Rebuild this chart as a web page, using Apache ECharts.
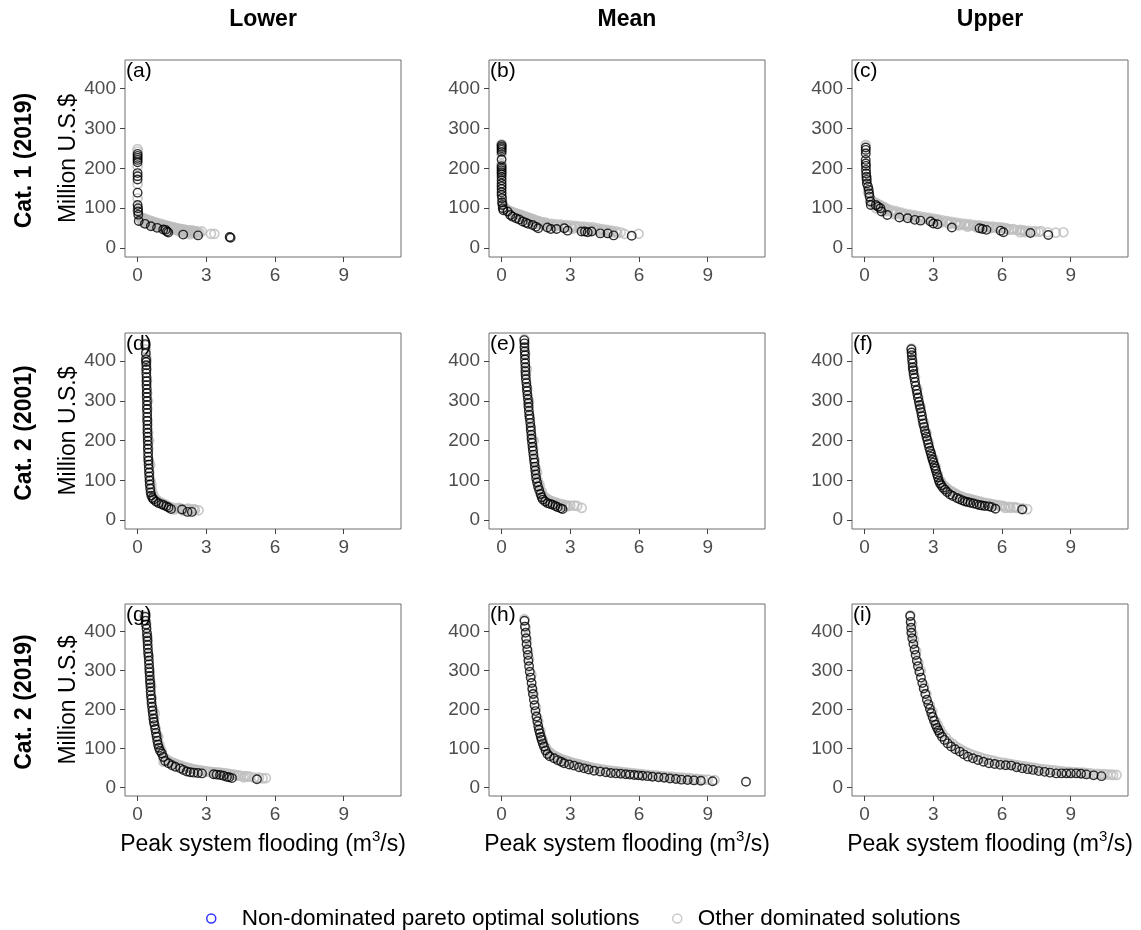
<!DOCTYPE html>
<html>
<head>
<meta charset="utf-8">
<script src="https://cdn.jsdelivr.net/npm/echarts@6/dist/echarts.min.js"></script>
<style>
html,body{margin:0;padding:0;background:#fff;}
#c{width:1141px;height:930px;}
</style>
</head>
<body>
<div id="c"></div>
<script>
// ---------- labels ----------
const columnTitles = ['Lower', 'Mean', 'Upper'];
const rowTitles = ['Cat. 1 (2019)', 'Cat. 2 (2001)', 'Cat. 2 (2019)'];
const panelTags = ['(a)', '(b)', '(c)', '(d)', '(e)', '(f)', '(g)', '(h)', '(i)'];
const xTicks = [0, 3, 6, 9];
const yTicks = [0, 100, 200, 300, 400];
const yTitle = 'Million U.S.$';
const seriesNames = ['Non-dominated pareto optimal solutions', 'Other dominated solutions'];

// ---------- data: [peak flooding m3/s, million US$] ----------
// (a) Cat.1 2019 Lower
const ndA = [[0.0,236],[0.0,231],[0.0,226],[0.0,221],[0.0,215],[0.0,188],[0.0,180],[0.0,172],[0.0,139],[0.0,108],[0.02,100],[0.02,92],[0.03,84],[0.05,68],[0.32,61],[0.58,55],[0.85,51],[1.12,47],[1.22,46],[1.28,42],[1.34,39],[1.99,34],[2.64,32],[4.02,28],[4.06,26]];
const domA = [[0.0,248],[0.0,242],[0.0,205],[0.0,160],[0.0,125],[0.0,95],[0.1,80],[0.2,76],[0.3,74],[0.4,72],[0.5,70],[0.6,68],[0.7,66],[0.8,64],[0.9,62],[1.0,61],[1.1,59],[1.2,57],[1.3,56],[1.4,55],[1.5,53],[1.6,52],[1.7,50],[1.8,49],[1.9,48],[2.0,47],[2.1,46],[2.2,45],[2.3,45],[2.4,44],[2.5,43],[2.6,42],[2.8,42],[3.2,36],[3.35,36],[0.2,66],[0.4,64],[0.6,60],[0.8,57],[1.0,54],[1.5,47],[1.7,45],[1.85,42],[2.0,41],[2.2,40],[2.4,38],[2.6,37],[2.3,35],[2.1,37],
  [0.15,72],[0.3,69],[0.45,66],[0.6,63],[0.75,60],[0.9,58],[1.05,56],[1.2,53],[1.35,51],[1.5,50],[1.65,48],[1.8,46],[1.95,44],[2.1,43],[2.25,42],[2.4,41],[2.55,40],[2.7,39],[0.25,64],[0.5,60],[0.75,55],[1.0,52],[1.25,48]];
// (b) Cat.1 2019 Mean
const ndB = [[0.0,258],[0.0,254],[0.0,250],[0.0,246],[0.0,241],[0.0,222],[0.0,205],[0.0,200],[0.0,195],[0.0,190],[0.0,185],[0.0,178],[0.0,170],[0.0,162],[0.0,155],[0.0,148],[0.0,140],[0.0,133],[0.02,125],[0.02,115],[0.04,108],[0.05,100],[0.08,95],[0.26,92],[0.38,83],[0.48,79],[0.63,75],[0.77,72],[0.92,67],[1.06,64],[1.16,61],[1.35,58],[1.5,54],[1.6,50],[2.0,52],[2.15,48],[2.4,48],[2.74,50],[2.88,44],[3.49,42],[3.64,42],[3.76,40],[3.93,42],[4.31,37],[4.63,37],[4.89,32],[5.68,31]];
const domB = [[0.0,260],[0.0,235],[0.0,210],[0.05,112],[0.1,104],[0.2,98],[0.3,95],[0.4,92],[0.5,90],[0.6,88],[0.7,86],[0.8,84],[0.9,82],[1.0,80],[1.1,78],[1.2,76],[1.3,74],[1.4,72],[1.5,70],[1.6,68],[1.7,66],[1.8,65],[1.9,64],[2.0,62],[2.2,61],[2.4,60],[2.6,59],[2.8,58],[3.0,57],[3.2,56],[3.4,55],[3.6,54],[3.8,53],[4.0,52],[4.2,50],[4.4,48],[4.6,46],[4.8,44],[5.0,42],[5.2,40],[5.36,36],[5.98,36],[0.4,84],[0.7,78],[1.0,73],[1.3,66],[1.6,60],[1.9,57],[2.3,54],[2.7,52],[3.1,49],[3.5,47],[3.9,45],[4.3,42],[4.7,39],
  [0.25,95],[0.45,88],[0.65,84],[0.85,80],[1.05,76],[1.25,71],[1.45,67],[1.65,63],[1.85,60],[2.05,58],[2.25,57],[2.45,56],[2.65,55],[2.85,54],[3.05,53],[3.25,52],[3.45,51],[3.65,50],[3.85,49],[4.05,47],[4.25,46],[4.45,44],[4.65,42],[4.85,40],[5.05,38]];
// (c) Cat.1 2019 Upper
const ndC = [[0.05,252],[0.05,246],[0.05,237],[0.05,221],[0.05,212],[0.06,206],[0.06,196],[0.07,187],[0.08,179],[0.09,171],[0.1,162],[0.15,154],[0.18,146],[0.2,137],[0.22,129],[0.25,117],[0.27,108],[0.49,108],[0.59,104],[0.69,100],[0.74,92],[0.99,83],[1.52,77],[1.88,75],[2.19,71],[2.44,69],[2.88,67],[3.0,62],[3.18,60],[3.81,52],[5.02,50],[5.15,48],[5.32,46],[5.94,44],[6.06,40],[7.24,38],[8.02,33]];
const domC = [[0.05,258],[0.1,175],[0.15,140],[0.3,120],[0.4,116],[0.5,113],[0.6,110],[0.7,107],[0.8,104],[0.9,101],[1.0,98],[1.2,95],[1.4,92],[1.6,89],[1.8,86],[2.0,84],[2.2,82],[2.4,80],[2.6,78],[2.8,76],[3.0,74],[3.2,72],[3.4,70],[3.6,68],[3.8,66],[4.0,64],[4.2,62],[4.4,61],[4.6,60],[4.8,58],[5.0,57],[5.2,56],[5.4,55],[5.6,54],[5.8,53],[6.0,52],[6.2,50],[6.5,48],[6.8,46],[7.0,44],[7.3,42],[7.46,42],[7.7,43],[8.35,39],[8.68,40],[6.8,40],[0.5,100],[0.9,92],[1.3,85],[1.7,80],[2.1,76],[2.5,72],[2.9,68],[3.3,64],[3.7,60],[4.1,57],[4.5,54],[4.9,52],[5.5,50],[6.3,46],[7.0,40],
  [0.35,112],[0.55,106],[0.75,100],[0.95,96],[1.15,92],[1.35,89],[1.55,86],[1.75,83],[1.95,81],[2.15,79],[2.35,77],[2.55,75],[2.75,73],[2.95,71],[3.15,69],[3.35,67],[3.55,65],[3.75,63],[3.95,61],[4.15,60],[4.35,58],[4.55,57],[4.75,56],[4.95,55],[5.15,54],[5.35,53],[5.55,52],[5.75,51],[5.95,50],[6.15,49],[6.4,47],[6.65,45],[6.9,44],[7.15,43],[7.6,41],[8.0,40]];
// (d) Cat.2 2001 Lower
const ndD = [[0.33,443],[0.36,420],[0.37,405],[0.37,398],[0.38,390],[0.38,380],[0.38,370],[0.39,360],[0.39,350],[0.39,340],[0.4,330],[0.4,320],[0.4,310],[0.41,300],[0.41,290],[0.41,280],[0.42,270],[0.42,260],[0.42,250],[0.43,240],[0.43,230],[0.43,220],[0.44,210],[0.44,200],[0.45,190],[0.45,180],[0.46,170],[0.46,160],[0.47,150],[0.48,140],[0.49,130],[0.5,120],[0.51,110],[0.52,100],[0.53,90],[0.55,80],[0.57,70],[0.6,62],[0.65,56],[0.7,52],[0.8,47],[0.92,43],[1.05,40],[1.14,38],[1.25,35],[1.35,32],[1.46,28],[1.94,27],[2.18,21],[2.37,21]];
const domD = [[0.35,440],[0.4,400],[0.45,300],[0.5,200],[0.55,140],[0.6,90],[0.7,60],[0.9,48],[1.1,42],[1.3,36],[1.5,32],[1.7,30],[1.9,29],[2.1,28],[2.3,27],[2.5,26],[2.66,25],[1.6,27],[2.0,24],
  [0.36,430],[0.38,410],[0.4,380],[0.41,350],[0.42,320],[0.43,280],[0.44,250],[0.46,220],[0.47,180],[0.49,150],[0.52,120],[0.56,100],[0.6,80],[0.65,70],[0.75,56],[0.85,50],[1.0,45],[1.2,40],[1.4,34],[1.8,31],[2.2,29],[2.45,28]];
// (e) Cat.2 2001 Mean
const ndE = [[0.99,453],[1.0,445],[1.0,435],[1.01,425],[1.02,415],[1.02,405],[1.03,395],[1.04,385],[1.04,375],[1.05,365],[1.06,355],[1.08,345],[1.1,335],[1.11,325],[1.13,315],[1.15,305],[1.17,295],[1.18,285],[1.19,275],[1.21,265],[1.23,255],[1.25,245],[1.27,235],[1.28,225],[1.3,215],[1.31,205],[1.33,195],[1.35,185],[1.37,175],[1.39,165],[1.41,155],[1.43,145],[1.45,135],[1.47,125],[1.49,115],[1.51,105],[1.55,95],[1.59,85],[1.64,76],[1.7,66],[1.75,58],[1.8,52],[1.9,47],[2.01,43],[2.12,41],[2.23,39],[2.35,36],[2.45,33],[2.58,30],[2.66,28]];
const domE = [[1.0,455],[1.1,380],[1.2,300],[1.4,200],[1.55,120],[1.65,90],[1.75,72],[1.85,60],[1.95,55],[2.05,52],[2.2,48],[2.35,45],[2.5,42],[2.65,40],[2.8,38],[2.88,35],[3.0,37],[3.17,37],[3.3,36],[3.5,31],
  [1.03,420],[1.06,370],[1.12,330],[1.16,290],[1.22,260],[1.28,230],[1.33,205],[1.38,180],[1.45,150],[1.5,130],[1.58,100],[1.65,85],[1.72,70],[1.8,60],[1.9,53],[2.0,49],[2.1,47],[2.3,44],[2.45,41],[2.6,38],[2.75,36]];
// (f) Cat.2 2001 Upper
const ndF = [[2.04,430],[2.05,422],[2.06,415],[2.07,405],[2.09,395],[2.1,385],[2.12,377],[2.14,368],[2.17,358],[2.2,348],[2.23,338],[2.27,327],[2.3,318],[2.33,308],[2.37,298],[2.4,290],[2.43,281],[2.47,272],[2.5,262],[2.53,253],[2.56,243],[2.6,235],[2.63,226],[2.67,218],[2.7,210],[2.74,202],[2.78,192],[2.82,183],[2.86,175],[2.9,167],[2.93,160],[2.97,152],[3.01,145],[3.05,137],[3.09,130],[3.12,124],[3.16,116],[3.2,108],[3.24,100],[3.29,93],[3.35,88],[3.42,82],[3.51,77],[3.6,71],[3.73,65],[3.85,61],[4.03,56],[4.15,53],[4.28,50],[4.39,47],[4.5,46],[4.62,44],[4.76,42],[4.9,40],[5.02,38],[5.12,37],[5.25,36],[5.42,35],[5.55,33],[5.71,29],[6.88,27]];
const domF = [[2.05,432],[2.15,380],[2.3,330],[2.6,245],[2.9,170],[3.2,115],[3.35,95],[3.5,85],[3.65,77],[3.8,72],[3.95,67],[4.1,62],[4.3,58],[4.5,55],[4.7,52],[4.9,49],[5.1,46],[5.3,43],[5.5,41],[5.7,39],[5.9,37],[6.1,35],[6.15,31],[6.37,31],[6.5,33],[6.66,31],[7.1,28],
  [2.1,400],[2.2,360],[2.35,310],[2.45,285],[2.5,265],[2.7,220],[2.8,195],[3.0,155],[3.1,135],[3.3,100],[3.45,88],[3.6,80],[3.75,74],[3.9,69],[4.05,64],[4.2,60],[4.4,56],[4.6,53],[4.8,50],[5.0,47],[5.2,44],[5.4,42],[5.6,40],[5.8,38],[6.0,36],[6.3,34],[6.6,32],[6.9,30]];
// (g) Cat.2 2019 Lower
const ndG = [[0.33,438],[0.35,428],[0.37,418],[0.39,408],[0.41,396],[0.42,386],[0.43,376],[0.44,366],[0.45,356],[0.46,346],[0.48,336],[0.49,326],[0.5,316],[0.51,306],[0.52,296],[0.53,286],[0.54,276],[0.55,267],[0.56,257],[0.57,247],[0.58,237],[0.6,227],[0.61,217],[0.63,207],[0.65,197],[0.67,187],[0.69,177],[0.71,168],[0.74,160],[0.77,150],[0.8,140],[0.83,130],[0.86,120],[0.89,110],[0.93,102],[0.98,94],[1.06,87],[1.12,78],[1.2,68],[1.35,62],[1.5,57],[1.65,53],[1.86,49],[2.0,45],[2.15,41],[2.3,39],[2.45,38],[2.63,37],[2.81,36],[3.32,34],[3.45,33],[3.6,32],[3.75,30],[3.9,27],[4.0,26],[4.12,24],[5.21,21]];
const domG = [[0.3,440],[0.45,380],[0.6,260],[0.75,190],[0.9,130],[1.0,100],[1.13,66],[1.3,70],[1.45,66],[1.6,62],[1.8,57],[2.0,53],[2.2,50],[2.4,47],[2.6,45],[2.8,43],[3.0,41],[3.2,40],[3.4,39],[3.6,38],[3.8,37],[4.0,35],[4.2,33],[4.4,31],[4.63,26],[4.8,28],[5.1,25],[5.46,23],
  [0.38,420],[0.42,390],[0.48,340],[0.52,300],[0.56,270],[0.62,230],[0.68,200],[0.72,175],[0.8,150],[0.85,135],[0.95,110],[1.05,92],[1.2,75],[1.35,68],[1.55,63],[1.7,60],[1.9,56],[2.1,52],[2.3,49],[2.5,46],[2.7,44],[2.9,42],[3.1,40],[3.3,39],[3.5,38],[3.7,37],[3.9,35],[4.1,33],[4.3,31],[4.5,30],[4.7,29],[4.9,28],[5.3,25],[5.6,24]];
// (h) Cat.2 2019 Mean
const ndH = [[1.0,428],[1.02,413],[1.05,397],[1.07,383],[1.09,368],[1.12,354],[1.15,340],[1.17,325],[1.2,311],[1.23,297],[1.27,282],[1.31,268],[1.34,254],[1.37,240],[1.41,225],[1.44,211],[1.48,196],[1.52,182],[1.56,170],[1.6,158],[1.63,148],[1.67,139],[1.71,130],[1.75,122],[1.8,113],[1.85,105],[1.92,95],[2.0,86],[2.1,80],[2.29,75],[2.45,70],[2.6,66],[2.73,62],[2.95,59],[3.16,56],[3.38,52],[3.6,49],[3.8,46],[4.04,43],[4.3,41],[4.55,39],[4.77,37],[4.99,36],[5.2,35],[5.42,34],[5.6,33],[5.79,32],[5.97,31],[6.15,30],[6.37,29],[6.59,27.5],[6.85,26],[7.1,25],[7.35,23],[7.61,21.5],[7.85,20],[8.12,19],[8.4,18],[8.7,17],[9.21,16],[10.67,14.6]];
const domH = [[1.0,432],[1.15,350],[1.35,250],[1.55,180],[1.75,128],[1.9,105],[2.05,92],[2.2,84],[2.4,78],[2.6,73],[2.8,69],[3.0,65],[3.2,62],[3.4,59],[3.6,56],[3.8,53],[4.0,50],[4.3,47],[4.6,44],[4.9,42],[5.2,40],[5.5,38],[5.8,36],[6.1,34],[6.4,32],[6.7,31],[7.0,29],[7.3,28],[7.6,26],[7.9,25],[8.2,24],[8.5,22],[8.8,20],
  [1.05,410],[1.1,380],[1.2,330],[1.3,290],[1.4,240],[1.5,205],[1.6,170],[1.7,145],[1.8,120],[1.95,100],[2.15,88],[2.3,82],[2.5,76],[2.7,71],[2.9,67],[3.1,63],[3.3,60],[3.5,57],[3.7,54],[3.9,51],[4.15,49],[4.45,46],[4.75,43],[5.05,41],[5.35,39],[5.65,37],[5.95,35],[6.25,33],[6.55,31],[6.85,30],[7.15,28],[7.45,27],[7.75,25],[8.05,24],[8.35,22],[8.65,21],[9.0,20],[9.3,19]];
// (i) Cat.2 2019 Upper
const ndI = [[1.99,440],[2.01,425],[2.03,410],[2.04,397],[2.08,383],[2.13,368],[2.18,354],[2.23,340],[2.28,325],[2.33,311],[2.39,297],[2.46,282],[2.52,268],[2.58,254],[2.65,240],[2.72,225],[2.78,214],[2.85,202],[2.91,191],[2.97,181],[3.03,171],[3.1,161],[3.16,153],[3.22,146],[3.28,139],[3.38,130],[3.49,122],[3.63,113],[3.78,105],[3.96,98],[4.15,92],[4.33,85],[4.51,79],[4.73,75],[4.95,70.5],[5.19,66],[5.43,62],[5.68,60],[5.92,58],[6.16,57],[6.4,56],[6.64,52],[6.88,49],[7.12,47],[7.35,45],[7.6,42],[7.86,40],[8.1,38],[8.37,36],[8.6,36],[8.81,36],[9.0,36],[9.24,36],[9.45,35],[9.68,33.5],[10.0,31],[10.34,29]];
const domI = [[2.0,442],[2.15,380],[2.35,320],[2.6,260],[2.85,210],[3.1,170],[3.4,138],[3.7,118],[4.0,104],[4.3,94],[4.6,86],[4.9,80],[5.2,74],[5.5,70],[5.8,66],[6.1,63],[6.4,60],[6.7,57],[7.0,54],[7.3,51],[7.6,48],[7.9,46],[8.2,44],[8.5,42],[8.8,40],[9.1,39],[9.4,38],[9.7,37],[10.0,35],[10.3,34],[10.6,33],[10.85,32],
  [2.05,420],[2.1,395],[2.25,350],[2.45,300],[2.7,240],[2.95,195],[3.2,160],[3.3,148],[3.55,128],[3.85,112],[4.15,100],[4.45,90],[4.75,83],[5.05,77],[5.35,72],[5.65,68],[5.95,64],[6.25,61],[6.55,58],[6.85,55],[7.15,52],[7.45,50],[7.75,47],[8.05,45],[8.35,43],[8.65,41],[8.95,40],[9.25,39],[9.55,38],[9.85,36],[10.15,35],[10.45,34],[10.75,33],[11.0,32]];

const ndAll = [ndA, ndB, ndC, ndD, ndE, ndF, ndG, ndH, ndI];
const domAll = [domA, domB, domC, domD, domE, domF, domG, domH, domI];

// ---------- layout ----------
const colLeft = [125, 489, 852];
const colWidth = 276;
const rowTop = [60, 333, 604];
const rowHeight = [197, 196, 192];
const FONT = '"Liberation Sans", Arial, sans-serif';
const borderCol = '#6e6e6e';
const tickCol = '#444444';
const labelCol = '#4d4d4d';
const grayCol = '#bdbdbd';

const grids = [], xAxes = [], yAxes = [], series = [], graphics = [];
for (let r = 0; r < 3; r++) {
  for (let c = 0; c < 3; c++) {
    const i = r * 3 + c;
    grids.push({left: colLeft[c], top: rowTop[r], width: colWidth, height: rowHeight[r],
      show: true, borderColor: borderCol, borderWidth: 1, backgroundColor: '#fff', containLabel: false});
    xAxes.push({
      type: 'value', gridIndex: i, min: -0.55, max: 11.5, position: 'bottom',
      axisLine: {show: false, onZero: false},
      splitLine: {show: false},
      axisTick: {show: true, length: 5, customValues: xTicks, lineStyle: {color: tickCol, width: 1}},
      axisLabel: {show: true, customValues: xTicks, color: labelCol, fontSize: 19, fontFamily: FONT, margin: 9},
      name: r === 2 ? '{t|Peak system flooding (m}{s|3}{t|/s)}' : '',
      nameLocation: 'middle', nameGap: 33,
      nameTextStyle: {rich: {
        t: {fontSize: 23, fontFamily: FONT, color: '#000', verticalAlign: 'bottom', lineHeight: 27},
        s: {fontSize: 15, fontFamily: FONT, color: '#000', verticalAlign: 'top', lineHeight: 27, padding: [0, 0, 10, 0]}
      }}
    });
    yAxes.push({
      type: 'value', gridIndex: i, min: -22, max: 471, position: 'left',
      axisLine: {show: false, onZero: false},
      splitLine: {show: false},
      axisTick: {show: true, length: 5, customValues: yTicks, lineStyle: {color: tickCol, width: 1}},
      axisLabel: {show: true, customValues: yTicks, color: labelCol, fontSize: 19, fontFamily: FONT, margin: 9},
      name: c === 0 ? yTitle : '',
      nameLocation: 'middle', nameGap: 33,
      nameTextStyle: {fontSize: 23, fontFamily: FONT, color: '#000'}
    });
    series.push({
      type: 'scatter', name: seriesNames[1], xAxisIndex: i, yAxisIndex: i,
      data: domAll[i], symbol: 'circle', symbolSize: 9,
      itemStyle: {color: 'rgba(0,0,0,0)', borderColor: grayCol, borderWidth: 1.7},
      emphasis: {disabled: true}, z: 2
    });
    series.push({
      type: 'scatter', name: seriesNames[0], xAxisIndex: i, yAxisIndex: i,
      data: ndAll[i], symbol: 'circle', symbolSize: 8.5,
      itemStyle: {color: 'rgba(0,0,0,0)', borderColor: '#000', borderWidth: 1.4},
      emphasis: {disabled: true}, z: 3
    });
    graphics.push({type: 'text', left: colLeft[c] + 1, top: rowTop[r] + 1, z: 10,
      style: {text: panelTags[i], fontSize: 21, fontFamily: FONT, fill: '#000'}});
  }
}
for (let c = 0; c < 3; c++) {
  graphics.push({type: 'text', x: colLeft[c] + colWidth / 2, y: 20,
    style: {text: columnTitles[c], fontSize: 23, fontWeight: 'bold', fontFamily: FONT, fill: '#000', align: 'center', verticalAlign: 'middle'}});
}
for (let r = 0; r < 3; r++) {
  graphics.push({type: 'text', x: 25, y: rowTop[r] + rowHeight[r] / 2 + 2, rotation: Math.PI / 2,
    style: {text: rowTitles[r], fontSize: 23, fontWeight: 'bold', fontFamily: FONT, fill: '#000', align: 'center', verticalAlign: 'middle'}});
}

const chart = echarts.init(document.getElementById('c'), null, {renderer: 'canvas'});
chart.setOption({
  animation: false,
  backgroundColor: '#fff',
  grid: grids, xAxis: xAxes, yAxis: yAxes, series: series,
  graphic: graphics,
  legend: [
    {data: [{name: seriesNames[0], icon: 'circle', itemStyle: {color: 'rgba(0,0,0,0)', borderColor: '#0000ff', borderWidth: 1.5}}],
     left: 201, top: 902, itemWidth: 9, itemHeight: 9, itemGap: 0, selectedMode: false,
     textStyle: {fontSize: 22.5, fontFamily: FONT, color: '#000', padding: [0, 0, 0, 21]}},
    {data: [{name: seriesNames[1], icon: 'circle', itemStyle: {color: 'rgba(0,0,0,0)', borderColor: grayCol, borderWidth: 1.5}}],
     left: 667, top: 902, itemWidth: 9, itemHeight: 9, itemGap: 0, selectedMode: false,
     textStyle: {fontSize: 22.5, fontFamily: FONT, color: '#000', padding: [0, 0, 0, 11]}}
  ]
});
</script>
</body>
</html>
